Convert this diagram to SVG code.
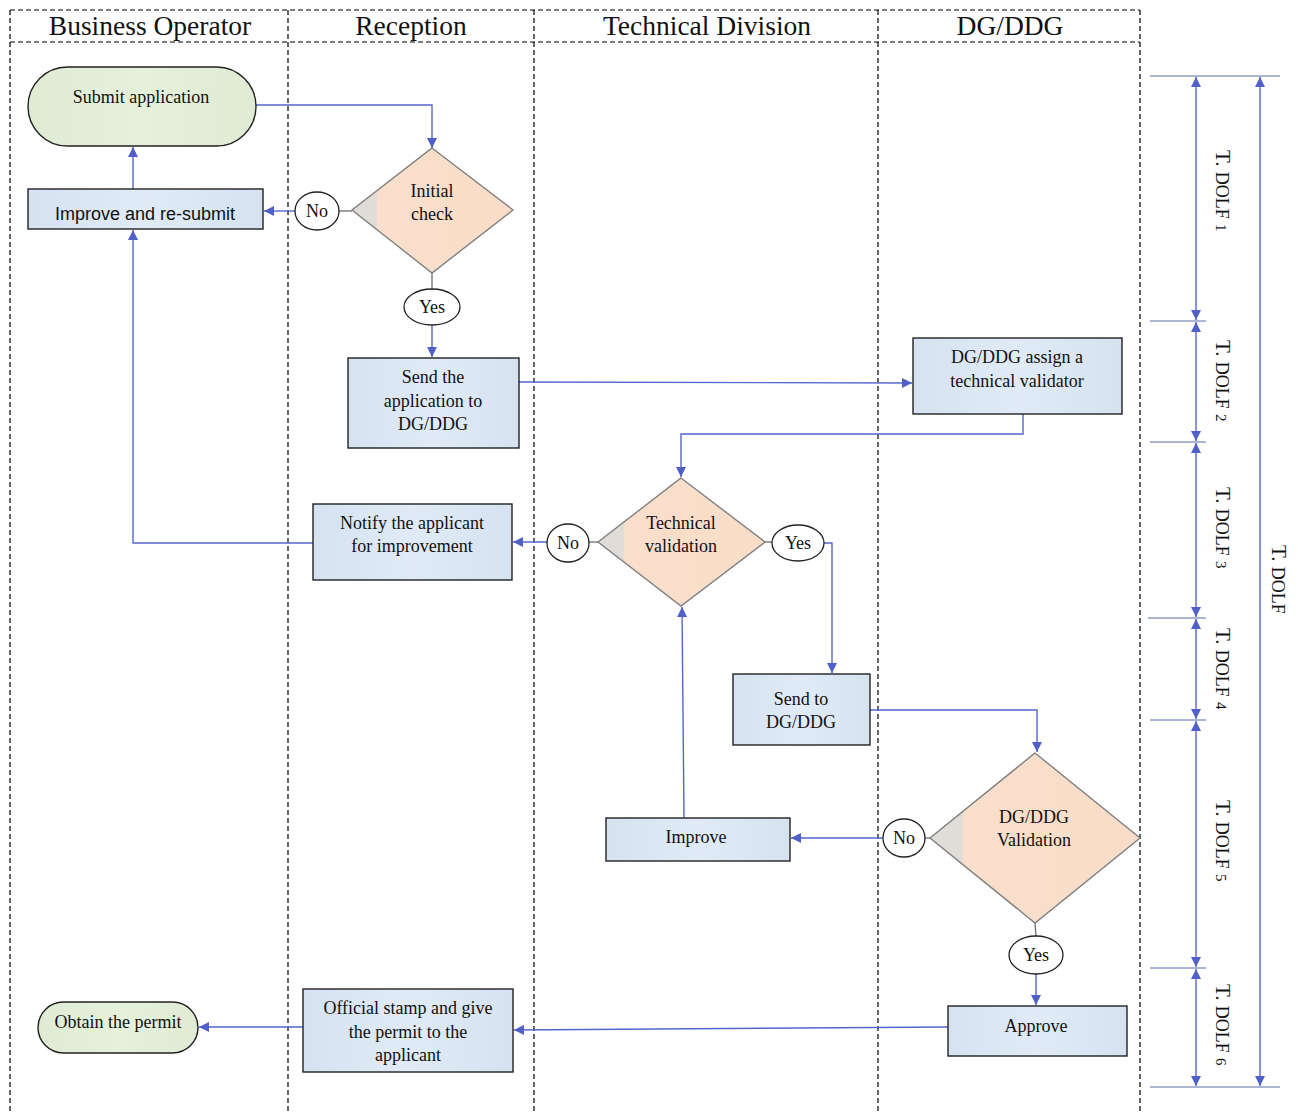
<svg xmlns="http://www.w3.org/2000/svg" width="1298" height="1113" viewBox="0 0 1298 1113">
<style>
.lane{stroke:#000;stroke-width:1.2;stroke-dasharray:5,3;fill:none}
.hdr{font-family:"Liberation Serif",serif;font-size:27.5px;fill:#111;text-anchor:middle}
.t{font-family:"Liberation Serif",serif;font-size:18px;fill:#111;text-anchor:middle}
.ts{font-family:"Liberation Sans",Arial,sans-serif;font-size:18px;fill:#111;text-anchor:middle}
.term{fill:url(#gGreen);stroke:#222;stroke-width:1.4}
.box{fill:url(#gBlue);stroke:#222;stroke-width:1.4}
.dia{fill:url(#gPeach);stroke:#808080;stroke-width:1.4}
.lbl{fill:#fff;stroke:#222;stroke-width:1.3}
.c{fill:none;stroke:#5566cc;stroke-width:1.4}
.g{fill:none;stroke:#777;stroke-width:1.4}
.tick{fill:none;stroke:#5a6aa8;stroke-width:1}
.dim{font-family:"Liberation Serif",serif;font-size:21px;fill:#111}
</style>
<defs>
<marker id="arr" viewBox="0 0 10 10" refX="10" refY="5" markerWidth="10" markerHeight="10" markerUnits="userSpaceOnUse" orient="auto">
<path d="M0,0 L10,5 L0,10 z" fill="#5060c8"/>
</marker>
<marker id="arrS" viewBox="0 0 10 10" refX="0" refY="5" markerWidth="10" markerHeight="10" markerUnits="userSpaceOnUse" orient="auto">
<path d="M10,0 L0,5 L10,10 z" fill="#5060c8"/>
</marker>
<linearGradient id="gGreen" x1="0" y1="0" x2="1" y2="0">
<stop offset="0" stop-color="#dfebd3"/><stop offset="0.5" stop-color="#e6f1dc"/><stop offset="1" stop-color="#dfebd3"/>
</linearGradient>
<linearGradient id="gBlue" x1="0" y1="0" x2="1" y2="0">
<stop offset="0" stop-color="#d6e2f0"/><stop offset="0.5" stop-color="#e0ebf7"/><stop offset="1" stop-color="#d6e2f0"/>
</linearGradient>
<linearGradient id="gPeach" x1="0" y1="0" x2="1" y2="0">
<stop offset="0" stop-color="#e0dcd8"/><stop offset="0.15" stop-color="#e0dcd8"/><stop offset="0.16" stop-color="#f9dfcc"/><stop offset="1" stop-color="#f9ddc8"/>
</linearGradient>
</defs>
<rect width="1298" height="1113" fill="#fff"/>

<g id="swimlanes">
<line class="lane" x1="10" y1="10" x2="1140" y2="10"/>
<line class="lane" x1="10" y1="42" x2="1140" y2="42"/>
<line class="lane" x1="10" y1="10" x2="10" y2="1113"/>
<line class="lane" x1="288" y1="10" x2="288" y2="1113"/>
<line class="lane" x1="534" y1="10" x2="534" y2="1113"/>
<line class="lane" x1="878" y1="10" x2="878" y2="1113"/>
<line class="lane" x1="1140" y1="10" x2="1140" y2="1113"/>
<text class="hdr" x="150" y="35">Business Operator</text>
<text class="hdr" x="411" y="35">Reception</text>
<text class="hdr" x="707" y="35">Technical Division</text>
<text class="hdr" x="1010" y="35">DG/DDG</text>
</g>

<g id="connectors">
<polyline class="c" points="256,105 432,105 432,148" marker-end="url(#arr)"/>
<line class="g" x1="352" y1="211" x2="339" y2="211"/>
<line class="c" x1="295" y1="211" x2="264" y2="211" marker-end="url(#arr)"/>
<line class="c" x1="133" y1="189" x2="133" y2="147" marker-end="url(#arr)"/>
<line class="g" x1="432" y1="273" x2="432" y2="289"/>
<line class="c" x1="432" y1="325" x2="432" y2="357" marker-end="url(#arr)"/>
<line class="c" x1="519" y1="382" x2="912" y2="383" marker-end="url(#arr)"/>
<polyline class="c" points="1023,414 1023,434 681,434 681,477" marker-end="url(#arr)"/>
<line class="g" x1="598" y1="542" x2="589" y2="542"/>
<line class="c" x1="547" y1="542" x2="513" y2="542" marker-end="url(#arr)"/>
<polyline class="c" points="313,543 133,543 133,230" marker-end="url(#arr)"/>
<line class="g" x1="765" y1="542" x2="772" y2="542"/>
<polyline class="c" points="824,543 832,543 832,673" marker-end="url(#arr)"/>
<polyline class="c" points="870,710 1037,710 1037,752" marker-end="url(#arr)"/>
<line class="g" x1="930" y1="838" x2="925" y2="838"/>
<line class="c" x1="883" y1="838" x2="791" y2="838" marker-end="url(#arr)"/>
<line class="c" x1="684" y1="818" x2="682" y2="607" marker-end="url(#arr)"/>
<line class="g" x1="1035" y1="923" x2="1036" y2="936"/>
<line class="c" x1="1036" y1="974" x2="1036" y2="1005" marker-end="url(#arr)"/>
<line class="c" x1="948" y1="1027" x2="514" y2="1030" marker-end="url(#arr)"/>
<line class="c" x1="303" y1="1027" x2="199" y2="1027" marker-end="url(#arr)"/>
</g>

<g id="submit-application">
<rect class="term" x="28" y="67" width="228" height="79" rx="39.5"/>
<text class="t" x="141" y="103">Submit application</text>
</g>
<g id="improve-resubmit">
<rect class="box" x="28" y="189" width="235" height="40"/>
<text class="ts" x="145" y="220">Improve and re-submit</text>
</g>
<g id="initial-check">
<polygon class="dia" points="432,148 513,210 432,273 352,210"/>
<text class="t" x="432" y="197">Initial</text>
<text class="t" x="432" y="220">check</text>
</g>
<g id="no-1">
<ellipse class="lbl" cx="317" cy="211" rx="22" ry="19"/>
<text class="t" x="317" y="217">No</text>
</g>
<g id="yes-1">
<ellipse class="lbl" cx="432" cy="307" rx="28" ry="18"/>
<text class="t" x="432" y="313">Yes</text>
</g>
<g id="send-application">
<rect class="box" x="348" y="358" width="171" height="90"/>
<text class="t" x="433" y="383">Send the</text>
<text class="t" x="433" y="407">application to</text>
<text class="t" x="433" y="430">DG/DDG</text>
</g>
<g id="assign-validator">
<rect class="box" x="913" y="338" width="209" height="76"/>
<text class="t" x="1017" y="363">DG/DDG assign a</text>
<text class="t" x="1017" y="387">technical validator</text>
</g>
<g id="technical-validation">
<polygon class="dia" points="681,478 765,542 681,606 598,542"/>
<text class="t" x="681" y="529">Technical</text>
<text class="t" x="681" y="552">validation</text>
</g>
<g id="no-2">
<ellipse class="lbl" cx="568" cy="543" rx="21" ry="19"/>
<text class="t" x="568" y="549">No</text>
</g>
<g id="yes-2">
<ellipse class="lbl" cx="798" cy="543" rx="26" ry="18"/>
<text class="t" x="798" y="549">Yes</text>
</g>
<g id="notify-applicant">
<rect class="box" x="313" y="504" width="199" height="76"/>
<text class="t" x="412" y="529">Notify the applicant</text>
<text class="t" x="412" y="552">for improvement</text>
</g>
<g id="send-to-dg">
<rect class="box" x="733" y="674" width="137" height="71"/>
<text class="t" x="801" y="705">Send to</text>
<text class="t" x="801" y="728">DG/DDG</text>
</g>
<g id="dg-validation">
<polygon class="dia" points="1035,753 1140,838 1035,923 930,838"/>
<text class="t" x="1034" y="823">DG/DDG</text>
<text class="t" x="1034" y="846">Validation</text>
</g>
<g id="no-3">
<ellipse class="lbl" cx="904" cy="838" rx="21" ry="19"/>
<text class="t" x="904" y="844">No</text>
</g>
<g id="improve">
<rect class="box" x="606" y="818" width="184" height="43"/>
<text class="t" x="696" y="843">Improve</text>
</g>
<g id="yes-3">
<ellipse class="lbl" cx="1036" cy="955" rx="27" ry="19"/>
<text class="t" x="1036" y="961">Yes</text>
</g>
<g id="approve">
<rect class="box" x="948" y="1006" width="179" height="50"/>
<text class="t" x="1036" y="1032">Approve</text>
</g>
<g id="official-stamp">
<rect class="box" x="303" y="989" width="210" height="83"/>
<text class="t" x="408" y="1014">Official stamp and give</text>
<text class="t" x="408" y="1038">the permit to the</text>
<text class="t" x="408" y="1061">applicant</text>
</g>
<g id="obtain-permit">
<rect class="term" x="38" y="1002" width="160" height="51" rx="25.5"/>
<text class="t" x="118" y="1028">Obtain the permit</text>
</g>

<g id="timeline">
<line class="tick" x1="1150" y1="76" x2="1280" y2="76"/>
<line class="tick" x1="1150" y1="321" x2="1206" y2="321"/>
<line class="tick" x1="1150" y1="442" x2="1206" y2="442"/>
<line class="tick" x1="1148" y1="618" x2="1206" y2="618"/>
<line class="tick" x1="1150" y1="720" x2="1206" y2="720"/>
<line class="tick" x1="1150" y1="968" x2="1206" y2="968"/>
<line class="tick" x1="1150" y1="1087" x2="1280" y2="1087"/>
<line class="c" x1="1196" y1="77" x2="1196" y2="320" marker-start="url(#arrS)" marker-end="url(#arr)"/>
<line class="c" x1="1196" y1="322" x2="1196" y2="441" marker-start="url(#arrS)" marker-end="url(#arr)"/>
<line class="c" x1="1196" y1="443" x2="1196" y2="617" marker-start="url(#arrS)" marker-end="url(#arr)"/>
<line class="c" x1="1196" y1="619" x2="1196" y2="719" marker-start="url(#arrS)" marker-end="url(#arr)"/>
<line class="c" x1="1196" y1="721" x2="1196" y2="967" marker-start="url(#arrS)" marker-end="url(#arr)"/>
<line class="c" x1="1196" y1="969" x2="1196" y2="1086" marker-start="url(#arrS)" marker-end="url(#arr)"/>
<line class="c" x1="1260" y1="77" x2="1260" y2="1086" marker-start="url(#arrS)" marker-end="url(#arr)"/>
<text class="dim" transform="translate(1216,150) rotate(90)">T. <tspan font-size="18">DOLF</tspan> <tspan font-size="15">1</tspan></text>
<text class="dim" transform="translate(1216,340) rotate(90)">T. <tspan font-size="18">DOLF</tspan> <tspan font-size="15">2</tspan></text>
<text class="dim" transform="translate(1216,487) rotate(90)">T. <tspan font-size="18">DOLF</tspan> <tspan font-size="15">3</tspan></text>
<text class="dim" transform="translate(1216,628) rotate(90)">T. <tspan font-size="18">DOLF</tspan> <tspan font-size="15">4</tspan></text>
<text class="dim" transform="translate(1216,800) rotate(90)">T. <tspan font-size="18">DOLF</tspan> <tspan font-size="15">5</tspan></text>
<text class="dim" transform="translate(1216,984) rotate(90)">T. <tspan font-size="18">DOLF</tspan> <tspan font-size="15">6</tspan></text>
<text class="dim" transform="translate(1272,545) rotate(90)">T. <tspan font-size="18">DOLF</tspan></text>
</g>
</svg>
